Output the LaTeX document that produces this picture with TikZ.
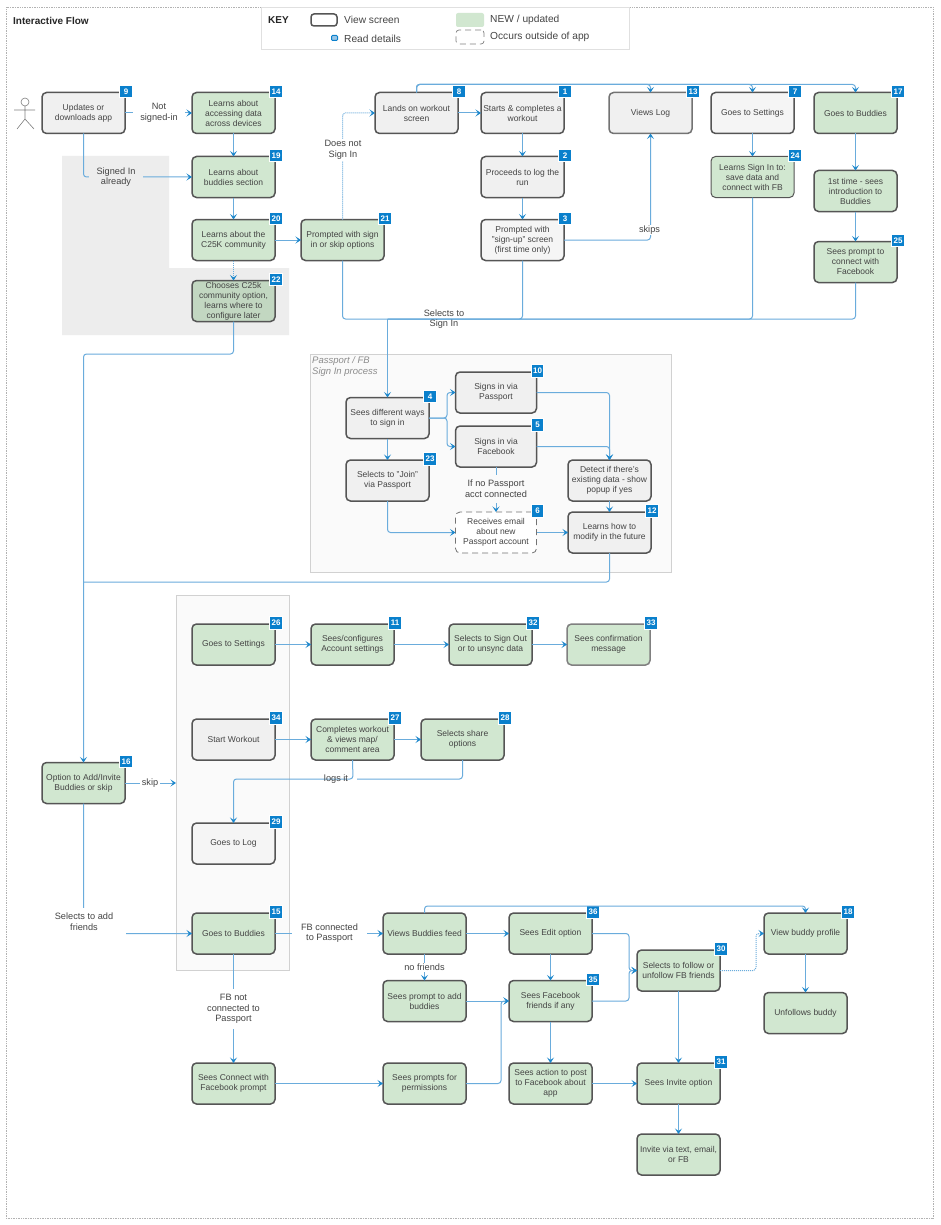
\documentclass[tikz,border=0pt]{standalone}
\usepackage{fontspec}
\setmainfont{Liberation Sans}
\usetikzlibrary{arrows.meta}
\definecolor{lineblue}{HTML}{6AACDC}
\definecolor{tipblue}{HTML}{1E88CC}
\definecolor{badgeblue}{HTML}{0A80CC}
\definecolor{newgreen}{HTML}{D1E7D0}
\definecolor{oldgray}{HTML}{F0F0F0}
\definecolor{edgegray}{HTML}{555555}
\definecolor{txt}{HTML}{444444}
\newcommand{\scrn}[5][]{\node[screen,#1] (#2) at (#3) {#4};\ifx&#5&\else\node[badge] (b#2) at ([xshift=1pt,yshift=1pt]#2.north east) {#5};\fi}
\tikzset{
  x=1pt,y=-1pt,
  screen/.style={draw=edgegray,line width=1.5pt,rounded corners=4.5pt,minimum width=83pt,minimum height=41pt,inner sep=0pt,outer sep=0pt,align=center,text=txt,font=\fontsize{8.5}{10}\selectfont},
  gr/.style={fill=newgreen},
  og/.style={fill=oldgray},
  narrow/.style={minimum width=81pt},
  badge/.style={fill=badgeblue,draw=white,line width=0.6pt,minimum size=12.5pt,inner sep=0pt,text=white,font=\fontsize{8}{8}\bfseries\selectfont},
  conn/.style={draw=lineblue,line width=1pt,rounded corners=3pt},
  arr/.style={conn,-{Stealth[length=5.5pt,width=7pt,inset=2.5pt,color=tipblue]}},
  dots/.style={densely dotted},
  lab/.style={fill=white,inner sep=2pt,align=center,text=txt,font=\fontsize{9.2}{10.7}\selectfont},
  plainlab/.style={lab,fill=none},
  keytext/.style={anchor=west,inner sep=0pt,text=txt,font=\fontsize{10.2}{12}\selectfont},
}
\begin{document}
\begin{tikzpicture}
\useasboundingbox (0,0) rectangle (940,1225);
\fill[white] (0,0) rectangle (940,1225);
% frame and key
\draw[gray!60,densely dotted,line width=0.7pt] (6,7.5) rectangle (933,1218);
\node[anchor=west,inner sep=0pt,font=\fontsize{10}{12}\bfseries\selectfont,text=black!85] (title) at (13,20.5) {Interactive Flow};
\draw[black!12,fill=white,line width=0.8pt] (261,7.5) rectangle (629,49);
\node[anchor=west,inner sep=0pt,font=\fontsize{10}{12}\bfseries\selectfont,text=black!85] (keytitle) at (268,20.5) {KEY};
\node[draw=edgegray,line width=1.5pt,rounded corners=3pt,minimum width=26pt,minimum height=12pt,inner sep=0pt] (keyview) at (324,20) {};
\node[keytext] (keyviewt) at (344,20) {View screen};
\node[draw=badgeblue,fill=lineblue!70,line width=1pt,rounded corners=1pt,minimum width=6pt,minimum height=5pt,inner sep=0pt] (keyread) at (334.5,38) {};
\node[keytext] (keyreadt) at (344,39) {Read details};
\node[fill=newgreen,rounded corners=2pt,minimum width=28pt,minimum height=14pt,inner sep=0pt] (keynew) at (470,20) {};
\node[keytext] (keynewt) at (490,20) {NEW / updated};
\node[draw=gray,dash pattern=on 6pt off 4pt,line width=0.7pt,rounded corners=3pt,minimum width=28pt,minimum height=14pt,inner sep=0pt] (keyout) at (470,37) {};
\node[keytext] (keyoutt) at (490,37) {Occurs outside of app};
% backgrounds
\fill[black!7] (62,156) -- (169,156) -- (169,268) -- (289,268) -- (289,335) -- (62,335) -- cycle;
\draw[black!18,fill=black!2,line width=0.8pt] (310,354) rectangle (671,572);
\draw[black!18,fill=black!2,line width=0.8pt] (176,595) rectangle (289,970);
\node[anchor=north west,inner sep=0pt,align=left,text=black!45,font=\fontsize{9.5}{11}\itshape\selectfont] (gtitle) at (312,356.5) {Passport / FB\\Sign In process};
% actor
\draw[gray,line width=0.6pt] (25,102) circle (4) (25,106) -- (25,119) (14,110) -- (35,110) (17,129) -- (25,119) -- (34,129);
% screens
\scrn[og]{n9}{83.5,113}{Updates or\\downloads app}{9}
\scrn[gr]{n14}{233.5,113}{Learns about\\accessing data\\across devices}{14}
\scrn[gr]{n19}{233.5,177}{Learns about\\buddies section}{19}
\scrn[gr]{n20}{233.5,240}{Learns about the\\C25K community}{20}
\scrn[fill=newgreen!93!black]{n22}{233.5,301}{Chooses C25k\\community option,\\learns where to\\configure later}{22}
\scrn[gr]{n21}{342.5,240}{Prompted with sign\\in or skip options}{21}
\scrn[og]{n8}{416.5,113}{Lands on workout\\screen}{8}
\scrn[og]{n1}{522.5,113}{Starts \& completes a\\workout}{1}
\scrn[og]{n2}{522.5,177}{Proceeds to log the\\run}{2}
\scrn[fill=black!4]{n3}{522.5,240}{Prompted with\\"sign-up" screen\\(first time only)}{3}
\scrn[og,draw=black!55]{n13}{650.5,113}{Views Log}{13}
\scrn[fill=black!4]{n7}{752.5,113}{Goes to Settings}{7}
\scrn[gr,line width=1pt]{n24}{752.5,177}{Learns Sign In to:\\save data and\\connect with FB}{24}
\scrn[gr]{n17}{855.5,113}{Goes to Buddies}{17}
\scrn[gr]{nintro}{855.5,191}{1st time - sees\\introduction to\\Buddies}{}
\scrn[gr]{n25}{855.5,262}{Sees prompt to\\connect with\\Facebook}{25}
\scrn[og]{n4}{387.5,418}{Sees different ways\\to sign in}{4}
\scrn[og]{n23}{387.5,480.5}{Selects to "Join"\\via Passport}{23}
\scrn[og,narrow]{n10}{496,392.5}{Signs in via\\Passport}{10}
\scrn[og,narrow]{n5}{496,446.5}{Signs in via\\Facebook}{5}
\scrn[narrow,fill=white,draw=black!55,line width=0.8pt,dash pattern=on 6pt off 4pt]{n6}{496,532.5}{Receives email\\about new\\Passport account}{6}
\scrn[og]{ndetect}{609.5,480.5}{Detect if there's\\existing data - show\\popup if yes}{}
\scrn[og]{n12}{609.5,532.5}{Learns how to\\modify in the future}{12}
\scrn[gr]{n26}{233.5,644.5}{Goes to Settings}{26}
\scrn[gr]{n11}{352.5,644.5}{Sees/configures\\Account settings}{11}
\scrn[gr]{n32}{490.5,644.5}{Selects to Sign Out\\or to unsync data}{32}
\scrn[gr,draw=black!50]{n33}{608.5,644.5}{Sees confirmation\\message}{33}
\scrn[og]{n34}{233.5,739.5}{Start Workout}{34}
\scrn[gr]{n27}{352.5,739.5}{Completes workout\\\& views map/\\comment area}{27}
\scrn[gr]{n28}{462.5,739.5}{Selects share\\options}{28}
\scrn[fill=black!4]{n29}{233.5,843.5}{Goes to Log}{29}
\scrn[gr]{n16}{83.5,783}{Option to Add/Invite\\Buddies or skip}{16}
\scrn[gr]{n15}{233.5,933.5}{Goes to Buddies}{15}
\scrn[gr]{nviews}{424.5,933.5}{Views Buddies feed}{}
\scrn[gr]{nadd}{424.5,1001}{Sees prompt to add\\buddies}{}
\scrn[gr]{nconnect}{233.5,1083.5}{Sees Connect with\\Facebook prompt}{}
\scrn[gr]{nperms}{424.5,1083.5}{Sees prompts for\\permissions}{}
\scrn[gr]{n36}{550.5,933.5}{Sees Edit option}{36}
\scrn[gr]{n35}{550.5,1001}{Sees Facebook\\friends if any}{35}
\scrn[gr]{npost}{550.5,1083.5}{Sees action to post\\to Facebook about\\app}{}
\scrn[gr]{n30}{678.5,970.5}{Selects to follow or\\unfollow FB friends}{30}
\scrn[gr]{n31}{678.5,1083.5}{Sees Invite option}{31}
\scrn[gr]{ninvite}{678.5,1154.5}{Invite via text, email,\\or FB}{}
\scrn[gr]{n18}{805.5,933.5}{View buddy profile}{18}
\scrn[gr]{nunf}{805.5,1013}{Unfollows buddy}{}
% junctions
\coordinate (bus) at (387.5,319);
\coordinate (turn) at (83.5,354);
\coordinate (trunk) at (83.5,582);
\coordinate (split) at (447,418);
\coordinate (skipend) at (176,783);
\coordinate (c16) at (83.5,933.5);
\coordinate (c28) at (357,779);
\coordinate (c27) at (353,779);
\coordinate (m1) at (629,970.5);
\coordinate (m2) at (501,1001);
\coordinate (m3) at (756,970.5);
% connectors
\draw[arr] (n9.east) -- (n14.west);
\draw[arr] (n9.south) |- (n19.west);
\draw[arr] (n14.south) -- (n19.north);
\draw[arr] (n19.south) -- (n20.north);
\draw[arr,dots] (n20.south) -- (n22.north);
\draw[arr] (n20.east) -- (n21.west);
\draw[arr,dots] (n21.north) |- (n8.west);
\draw[arr] (n8.east) -- (n1.west);
\draw[arr] (n1.south) -- (n2.north);
\draw[arr] (n2.south) -- (n3.north);
\draw[arr] (n3.east) -| (n13.south);
\draw[arr] (n8.north) -- ++(0,-8) -| (n13.north);
\draw[arr] (n8.north) -- ++(0,-8) -| (n7.north);
\draw[arr] (n8.north) -- ++(0,-8) -| (n17.north);
\draw[arr] (n7.south) -- (n24.north);
\draw[arr] (n17.south) -- (nintro.north);
\draw[arr] (nintro.south) -- (n25.north);
\draw[conn] (n21.south) |- (bus);
\draw[conn] (n3.south) |- (bus);
\draw[conn] (n24.south) |- (bus);
\draw[conn] (n25.south) |- (bus);
\draw[arr] (bus) -- (n4.north);
\draw[arr] (n22.south) |- (turn) -- (n16.north);
\draw[conn] (n12.south) |- (trunk);
\draw[arr] (n4.east) -- (split) |- (n10.west);
\draw[arr] (n4.east) -- (split) |- (n5.west);
\draw[arr] (n4.south) -- (n23.north);
\draw[arr] (n23.south) |- (n6.west);
\draw[arr] (n5.south) -- (n6.north);
\draw[arr] (n6.east) -- (n12.west);
\draw[arr] (n10.east) -| (ndetect.north);
\draw[arr] (n5.east) -| (ndetect.north);
\draw[arr] (ndetect.south) -- (n12.north);
\draw[arr] (n16.east) -- (skipend);
\draw[arr] (n16.south) -- (c16) -- (n15.west);
\draw[arr] (n26.east) -- (n11.west);
\draw[arr] (n11.east) -- (n32.west);
\draw[arr] (n32.east) -- (n33.west);
\draw[arr] (n34.east) -- (n27.west);
\draw[arr] (n27.east) -- (n28.west);
\draw[conn] (n28.south) |- (c28);
\draw[arr] (n27.south) -- (c27) -| (n29.north);
\draw[arr] (n15.east) -- (nviews.west);
\draw[arr] (n15.south) -- (nconnect.north);
\draw[arr] (nconnect.east) -- (nperms.west);
\draw[arr] (nviews.east) -- (n36.west);
\draw[arr] (nviews.south) -- (nadd.north);
\draw[arr] (nviews.north) -- ++(0,-7) -| (n18.north);
\draw[arr] (nadd.east) -- (n35.west);
\draw[arr] (nperms.east) -| (m2) -- (n35.west);
\draw[arr] (n36.south) -- (n35.north);
\draw[arr] (n35.south) -- (npost.north);
\draw[arr] (npost.east) -- (n31.west);
\draw[arr] (n36.east) -| (m1) -- (n30.west);
\draw[arr] (n35.east) -| (m1) -- (n30.west);
\draw[arr,dots] (n30.east) -- (m3) |- (n18.west);
\draw[arr] (n30.south) -- (n31.north);
\draw[arr] (n31.south) -- (ninvite.north);
\draw[arr] (n18.south) -- (nunf.north);
% labels
\node[lab,minimum width=52pt] (lnot) at (159,113) {Not\\signed-in};
\node[lab,fill=black!7,minimum width=54pt] (lsigned) at (116,177) {Signed In\\already};
\node[lab] (ldoes) at (343,150) {Does not\\Sign In};
\node[plainlab] (lselects) at (444,319) {Selects to\\Sign In};
\node[lab,inner sep=1pt] (lskips) at (649.5,230) {skips};
\node[lab,fill=black!2,minimum height=28pt] (lnopass) at (496,489) {If no Passport\\acct connected};
\node[lab] (lskip) at (150,783) {skip};
\node[lab,minimum width=84pt,minimum height=29pt] (ladd) at (84,922) {Selects to add\\friends};
\node[plainlab] (llogs) at (336,779) {logs it};
\node[lab,minimum width=75pt] (lfbc) at (329.5,933) {FB connected\\to Passport};
\node[lab,minimum height=40pt] (lfbn) at (233.5,1009) {FB not\\connected to\\Passport};
\node[lab,inner sep=1pt] (lnof) at (424.5,967.5) {no friends};
\end{tikzpicture}
\end{document}
